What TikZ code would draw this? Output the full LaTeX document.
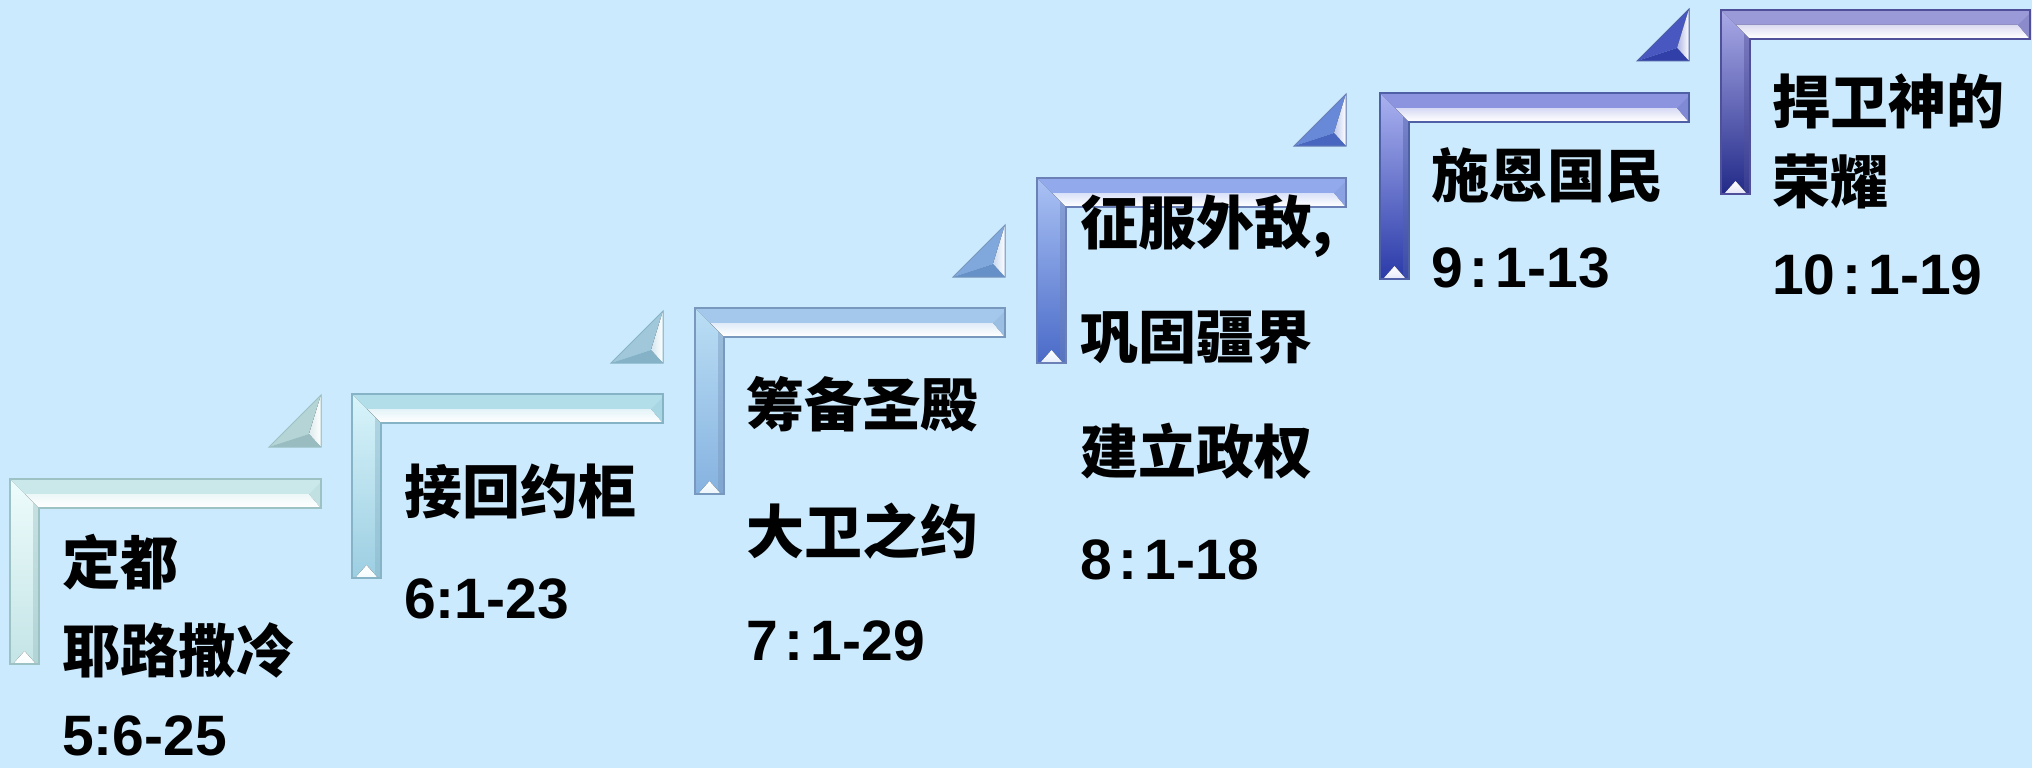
\documentclass[tikz,border=0pt]{standalone}
\usepackage{fontspec}
\newfontfamily\cjk{Noto Sans CJK SC}
\newfontfamily\latn{Liberation Sans}
\definecolor{bg}{RGB}{204,234,253}
% step colours: L (light), M (mid), D (dark), O (outline)
\definecolor{aL}{HTML}{EEFCFC}\definecolor{aM}{HTML}{CAE8EA}\definecolor{aD}{HTML}{C4E4E6}\definecolor{aO}{HTML}{9CC2C4}
\definecolor{bL}{HTML}{D8F4FA}\definecolor{bM}{HTML}{B2DEEA}\definecolor{bD}{HTML}{9CCEE2}\definecolor{bO}{HTML}{86B4C6}
\definecolor{cL}{HTML}{BADEF4}\definecolor{cM}{HTML}{A4C8EC}\definecolor{cD}{HTML}{86B2E0}\definecolor{cO}{HTML}{7898BE}
\definecolor{dL}{HTML}{AAC2F4}\definecolor{dM}{HTML}{92AAEC}\definecolor{dD}{HTML}{4A6AC8}\definecolor{dO}{HTML}{6A80B6}
\definecolor{eL}{HTML}{AAB2F0}\definecolor{eM}{HTML}{8C94E0}\definecolor{eD}{HTML}{2A3AA8}\definecolor{eO}{HTML}{5060A6}
\definecolor{fL}{HTML}{AAAAE8}\definecolor{fM}{HTML}{9A9AD8}\definecolor{fD}{HTML}{222A88}\definecolor{fO}{HTML}{50509A}
% pointer colours
\definecolor{taH}{HTML}{B4D4D6}\definecolor{taB}{HTML}{98BCC0}
\definecolor{tbH}{HTML}{A0C8DA}\definecolor{tbB}{HTML}{86B2C8}
\definecolor{tcH}{HTML}{80A8DC}\definecolor{tcB}{HTML}{6690C8}
\definecolor{tdH}{HTML}{6888D8}\definecolor{tdB}{HTML}{4866C0}
\definecolor{teH}{HTML}{4858C0}\definecolor{teB}{HTML}{3040A8}
% #1 x0, #2 y0, #3 x1, #4 yb, #5 L, #6 M, #7 D, #8 O
\newcommand{\stairL}[8]{%
  \fill[top color=#5,bottom color=#7] (#1,#2) -- ({#1+29},{#2+29}) -- ({#1+29},#4) -- (#1,#4) -- cycle;
  \fill[#8,opacity=.45] ({#1+23},{#2+23}) -- ({#1+29},{#2+29}) -- ({#1+29},#4) -- ({#1+23},#4) -- cycle;
  \fill[#6] (#1,#2) -- (#3,#2) -- (#3,{#2+29}) -- ({#1+29},{#2+29}) -- cycle;
  \fill[top color=#6!35!white,bottom color=white] ({#1+15},{#2+15}) -- ({#3-12},{#2+15}) -- ({#3-1},{#2+28}) -- ({#1+28},{#2+28}) -- cycle;
  \fill[#6!80!#8] ({#3-12},{#2+15}) -- (#3,{#2+3}) -- (#3,{#2+29}) -- ({#3-1},{#2+28}) -- cycle;
  \fill[top color=white,bottom color=white!70!#5] ({#1+3},#4) -- ({#1+14.5},{#4-13}) -- ({#1+26},#4) -- cycle;
  \draw[#8,line width=1.2,line join=miter] (#1,#2) -- (#3,#2) -- (#3,{#2+29}) -- ({#1+29},{#2+29}) -- ({#1+29},#4) -- (#1,#4) -- cycle;
}
% #1 xr, #2 yb, #3 hyp colour, #4 bottom colour, #5 outline
\newcommand{\pointer}[5]{%
  \fill[#3] ({#1-52},#2) -- (#1,{#2-52}) -- ({#1-12},{#2-13}) -- cycle;
  \fill[left color=white!55!#3,right color=white] (#1,{#2-52}) -- (#1,#2) -- ({#1-12},{#2-13}) -- cycle;
  \fill[#4] ({#1-52},#2) -- (#1,#2) -- ({#1-12},{#2-13}) -- cycle;
  \draw[#5,line width=1,line join=miter] ({#1-52},#2) -- (#1,{#2-52}) -- (#1,#2) -- cycle;
}
\tikzset{
  cjktxt/.style={anchor=west,inner sep=0pt,font=\cjk\bfseries\fontsize{58}{62}\selectfont},
  numtxt/.style={anchor=west,inner sep=0pt,font=\latn\bfseries\fontsize{57}{60}\selectfont}
}
\newcommand{\cl}{\kern7pt:\kern7pt}
\begin{document}
\begin{tikzpicture}[x=1pt,y=-1pt]
\fill[bg] (0,0) rectangle (2032,768);
\useasboundingbox (0,0) rectangle (2032,768);
% steps
\stairL{10}{479}{321}{664}{aL}{aM}{aD}{aO}
\stairL{352}{394}{663}{578}{bL}{bM}{bD}{bO}
\stairL{695}{308}{1005}{494}{cL}{cM}{cD}{cO}
\stairL{1037}{178}{1346}{363}{dL}{dM}{dD}{dO}
\stairL{1380}{93}{1689}{279}{eL}{eM}{eD}{eO}
\stairL{1721}{10}{2030}{194}{fL}{fM}{fD}{fO}
% pointers
\pointer{321}{447}{taH}{taB}{aO}
\pointer{663}{363}{tbH}{tbB}{bO}
\pointer{1005}{277}{tcH}{tcB}{cO}
\pointer{1346}{146}{tdH}{tdB}{dO}
\pointer{1689}{61}{teH}{teB}{eO}
% texts
\node[cjktxt] (t1a) at (62,562) {定都};
\node[cjktxt] (t1b) at (62,650) {耶路撒冷};
\node[numtxt] (t1c) at (62,736) {5:6-25};
\node[cjktxt] (t2a) at (404,492) {接回约柜};
\node[numtxt] (t2b) at (404,599) {6:1-23};
\node[cjktxt] (t3a) at (746,404) {筹备圣殿};
\node[cjktxt] (t3b) at (746,531) {大卫之约};
\node[numtxt] (t3c) at (746,641) {7\cl1-29};
\node[cjktxt] (t4a) at (1080,226) {征服外敌,};
\node[cjktxt] (t4b) at (1080,338) {巩固疆界};
\node[cjktxt] (t4c) at (1080,451) {建立政权};
\node[numtxt] (t4d) at (1080,560) {8\cl1-18};
\node[cjktxt] (t5a) at (1431,175) {施恩国民};
\node[numtxt] (t5b) at (1431,268) {9\cl1-13};
\node[cjktxt] (t6a) at (1772,101) {捍卫神的};
\node[cjktxt] (t6b) at (1772,181) {荣耀};
\node[numtxt] (t6c) at (1772,275) {10\cl1-19};
\end{tikzpicture}
\end{document}
